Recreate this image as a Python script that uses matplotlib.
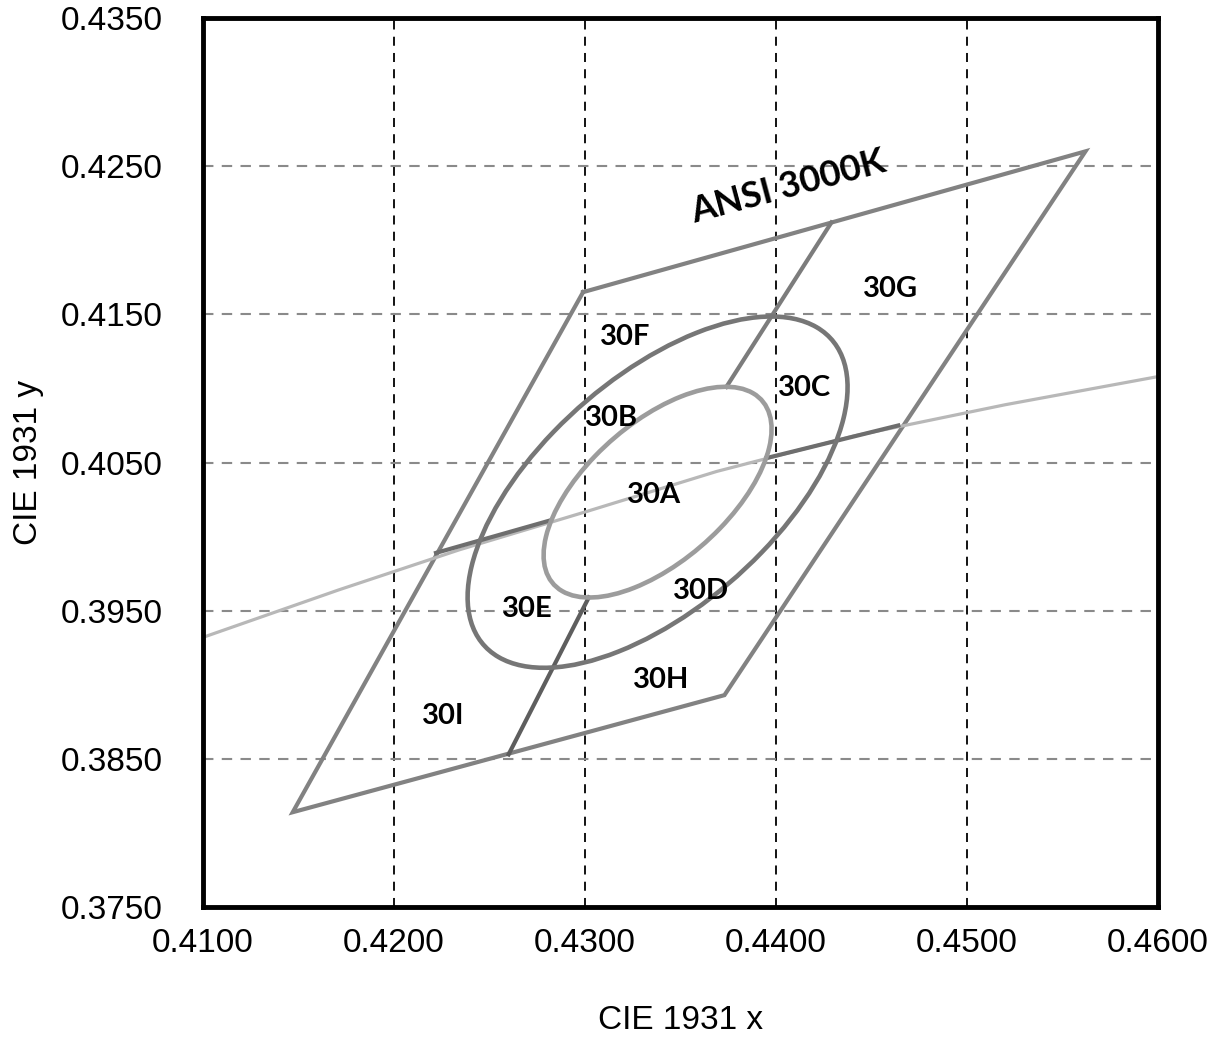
import numpy as np
import matplotlib.pyplot as plt
from matplotlib.patches import Ellipse
from matplotlib import font_manager

# ANSI 3000K quadrangle corners (CIE 1931 x, y)
quad_x = [0.4299, 0.4562, 0.4373, 0.4147, 0.4299]
quad_y = [0.4165, 0.4260, 0.3893, 0.3814, 0.4165]

# blackbody locus across the plot
locus_x = [0.4100, 0.4171, 0.4234, 0.4301, 0.4369, 0.4441, 0.4520, 0.4600]
locus_y = [0.3932, 0.3964, 0.3991, 0.4017, 0.4044, 0.4068, 0.4089, 0.4108]

# ellipses around the 3000K centre
centre = (0.4338, 0.4030)
inner_a, inner_b = 0.00834, 0.00408
outer_a, outer_b = 0.0139, 0.0068
ell_angle = 53.22

# bin dividers (start, end)
div_upper = ([0.4374, 0.4429], [0.4101, 0.4212])
div_lower = ([0.4302, 0.4260], [0.3959, 0.3853])
div_left = ([0.4222, 0.4282], [0.3989, 0.4011])
div_right = ([0.4395, 0.4464], [0.4053, 0.4075])

bin_names = ['30A', '30B', '30C', '30D', '30E', '30F', '30G', '30H', '30I']
bin_x = [0.4336, 0.4314, 0.4415, 0.4361, 0.4270, 0.4321, 0.4460, 0.4340, 0.4226]
bin_y = [0.4028, 0.4080, 0.4100, 0.3963, 0.3951, 0.4135, 0.4167, 0.3903, 0.3879]

x_ticks = [0.41, 0.42, 0.43, 0.44, 0.45, 0.46]
y_ticks = [0.375, 0.385, 0.395, 0.405, 0.415, 0.425, 0.435]

# pick an upright bold file explicitly
bold_file = None
for f in font_manager.fontManager.ttflist:
    if f.name == 'Lato' and f.style == 'normal' and f.weight in (700, 'bold'):
        bold_file = f.fname
        break
if bold_file is None:
    bold_file = font_manager.findfont(font_manager.FontProperties(family='DejaVu Sans', weight='bold'))

fig = plt.figure(figsize=(12.14, 10.41), dpi=100)
ax = fig.add_axes([0.1672, 0.1287, 0.7867, 0.854])

for gx in x_ticks[1:-1]:
    ax.axvline(gx, color='black', lw=1.3, ls=(0, (5, 4)), zorder=0)
for gy in y_ticks[1:-1]:
    ax.axhline(gy, color='#8a8a8a', lw=1.5, ls=(0, (5, 4)), zorder=0)

ax.plot(quad_x, quad_y, color='#828282', lw=3.0, solid_joinstyle='miter', zorder=2)
ax.plot(locus_x, locus_y, color='#b8b8b8', lw=2.3, zorder=2)

ax.plot(*div_left, color='#6e6e6e', lw=3.0, zorder=3)
ax.plot(*div_right, color='#6e6e6e', lw=3.0, zorder=3)
ax.plot(*div_upper, color='#7c7c7c', lw=3.0, zorder=3)
ax.plot(*div_lower, color='#5e5e5e', lw=3.0, zorder=3)

ax.add_patch(Ellipse(centre, 2 * outer_a, 2 * outer_b, angle=ell_angle,
                     fill=False, ec='#767676', lw=3.3, zorder=4))
ax.add_patch(Ellipse(centre, 2 * inner_a, 2 * inner_b, angle=ell_angle,
                     fill=False, ec='#9c9c9c', lw=3.3, zorder=4))

for name, bx, by in zip(bin_names, bin_x, bin_y):
    ax.text(bx, by, name, fontproperties=font_manager.FontProperties(fname=bold_file, size=21),
            ha='center', va='center', zorder=5)

ax.text(0.4408, 0.4229, 'ANSI 3000K',
        fontproperties=font_manager.FontProperties(fname=bold_file, size=26),
        rotation=15, rotation_mode='anchor', ha='center', va='baseline', zorder=5)

ax.set_xlim(0.41, 0.46)
ax.set_ylim(0.375, 0.435)
ax.set_xticks(x_ticks)
ax.set_yticks(y_ticks)
ax.set_xticklabels(['%.4f' % v for v in x_ticks])
ax.set_yticklabels(['%.4f' % v for v in y_ticks])
ax.tick_params(length=0, labelsize=24)
ax.tick_params(axis='x', pad=15)
ax.tick_params(axis='y', pad=29)
for lab in ax.get_xticklabels() + ax.get_yticklabels():
    lab.set_family('Liberation Sans')
for s in ax.spines.values():
    s.set_linewidth(3.5)

ax.set_xlabel('CIE 1931 x', fontsize=24, family='Liberation Sans', labelpad=33)
ax.set_ylabel('CIE 1931 y', fontsize=24, family='Liberation Sans', labelpad=12)

fig.savefig('out.png', dpi=100)
